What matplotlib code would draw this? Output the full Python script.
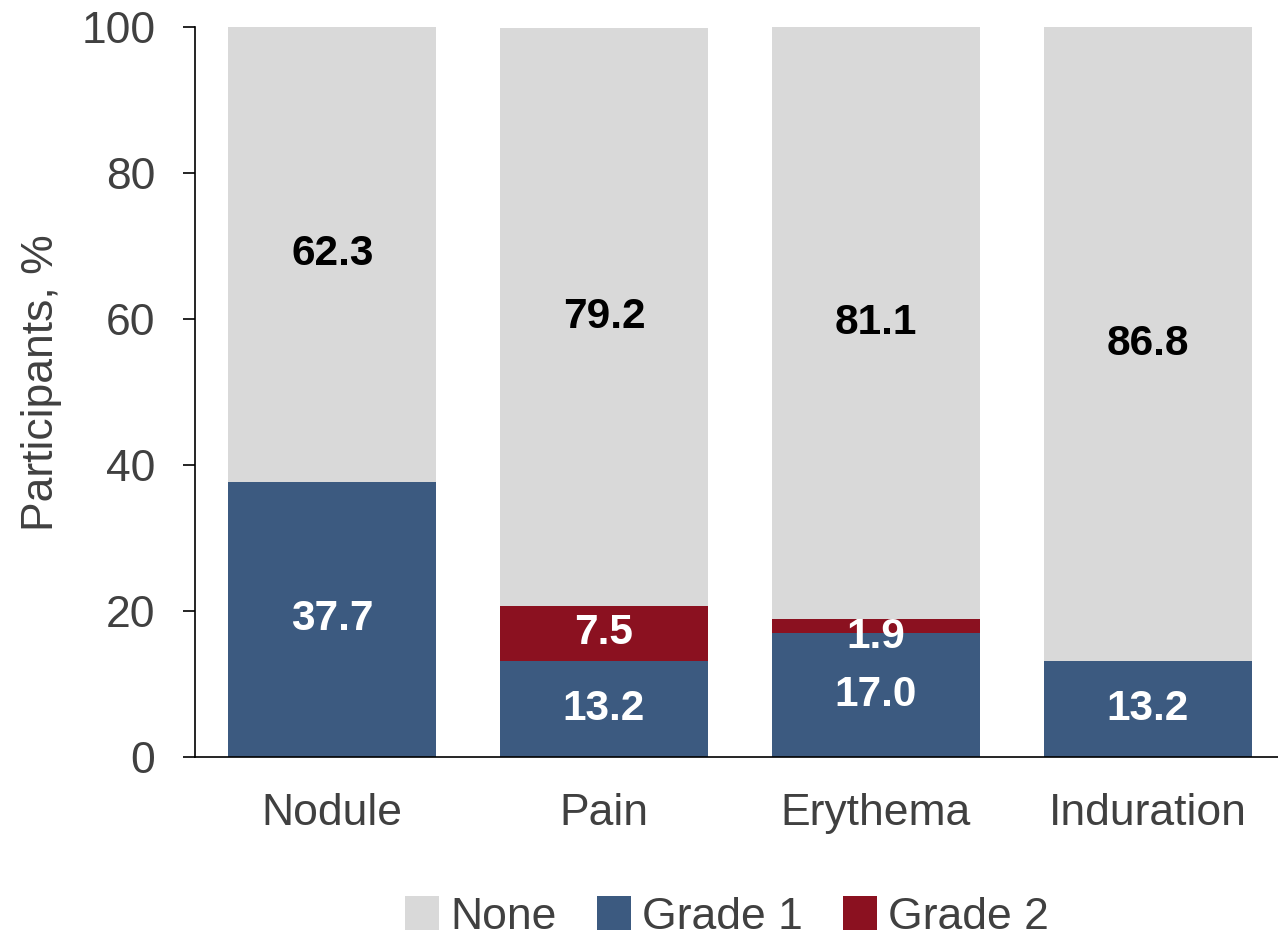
import numpy as np
import matplotlib
matplotlib.use('Agg')
import matplotlib.pyplot as plt

plt.rcParams['font.family'] = ['Liberation Sans', 'DejaVu Sans']

# local reaction severity by type (% of participants)
categories = ['Nodule', 'Pain', 'Erythema', 'Induration']
grade1 = [37.7, 13.2, 17.0, 13.2]
grade2 = [0.0, 7.5, 1.9, 0.0]
none = [62.3, 79.2, 81.1, 86.8]
yticks = [0, 20, 40, 60, 80, 100]

GRAY = '#D9D9D9'
BLUE = '#3C5A80'
RED = '#8B1120'
TXT = '#404040'

fig = plt.figure(figsize=(12.78, 9.35), dpi=100)
ax = fig.add_axes([195 / 1278, 1 - 757 / 935, 1 - 195 / 1278, (757 - 27) / 935])

x = np.arange(len(categories))
w = 0.765
g1 = np.array(grade1)
g2 = np.array(grade2)
nn = np.array(none)

b1 = ax.bar(x, g1, w, color=BLUE, label='Grade 1', zorder=2)
b2 = ax.bar(x, g2, w, bottom=g1, color=RED, label='Grade 2', zorder=2)
b0 = ax.bar(x, nn, w, bottom=g1 + g2, color=GRAY, label='None', zorder=2)


def put_labels(vals, bottoms, color):
    for xi, v, b in zip(x, vals, bottoms):
        if v <= 0:
            continue
        # thin segments: nudge label down so it stays readable
        dy = -8 if v < 3 else 0
        ax.annotate(f'{v:.1f}', (xi, b + v / 2), xytext=(0, dy),
                    textcoords='offset points', ha='center', va='center',
                    fontsize=30.5, fontweight='bold', color=color, zorder=3)


put_labels(g1, np.zeros(len(x)), 'white')
put_labels(g2, g1, 'white')
put_labels(nn, g1 + g2, 'black')

ax.set_xlim(-0.505, 3.48)
ax.set_ylim(0, 100)
ax.set_yticks(yticks)
ax.set_xticks(x)
ax.set_xticklabels(categories)

for s in ['top', 'right']:
    ax.spines[s].set_visible(False)
for s in ['left', 'bottom']:
    ax.spines[s].set_linewidth(1.2)
    ax.spines[s].set_color('black')

ax.tick_params(axis='y', direction='out', length=8.6, width=1.2, pad=20,
               labelsize=32, labelcolor=TXT)
ax.tick_params(axis='x', length=0, pad=26, labelsize=32, labelcolor=TXT)

ax.set_ylabel('Participants, %', fontsize=32, color=TXT)
ax.yaxis.set_label_coords(-0.123, 0.513)

handles = [b0, b1, b2]
fig.legend(handles, ['None', 'Grade 1', 'Grade 2'], loc='center',
           bbox_to_anchor=(727 / 1278, 1 - 917 / 935), ncol=3, frameon=False,
           fontsize=32, labelcolor=TXT, handlelength=0.77, handleheight=0.77,
           handletextpad=0.25, columnspacing=0.9, borderpad=0)

fig.savefig('out.png', dpi=100)
